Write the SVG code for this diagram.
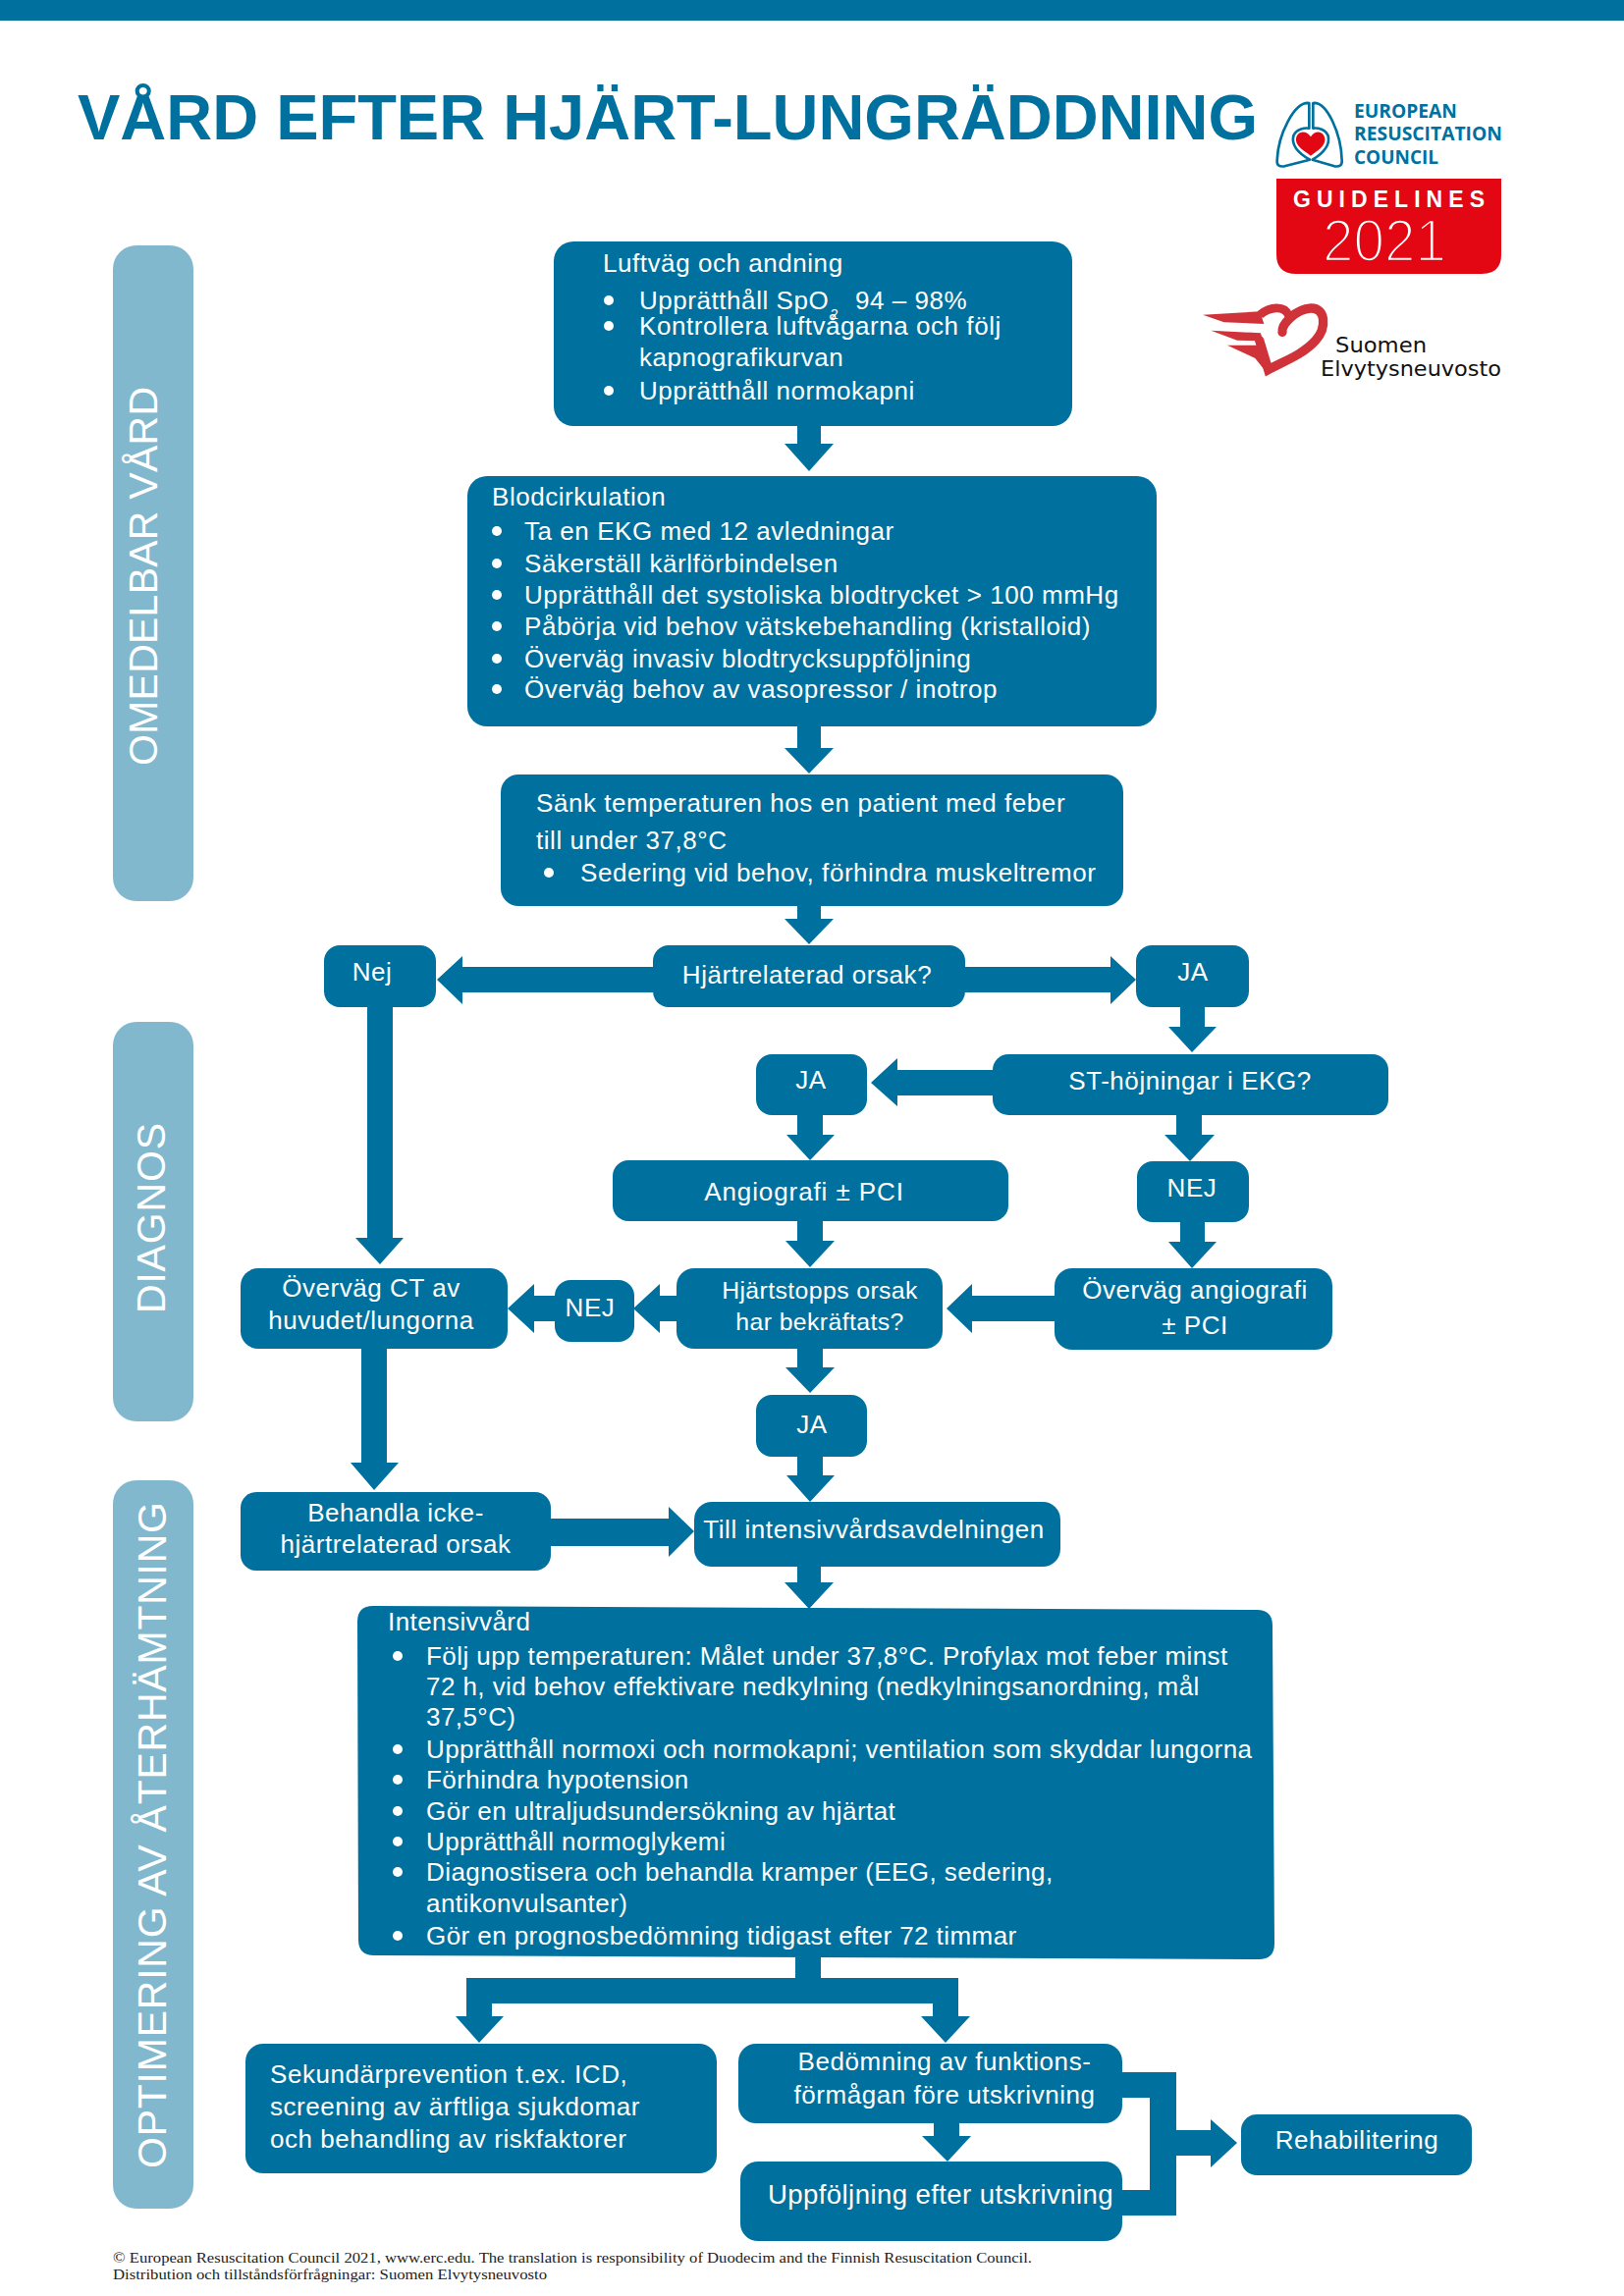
<svg xmlns="http://www.w3.org/2000/svg" width="1654" height="2339" viewBox="0 0 1654 2339">
<style>
text{font-family:"Liberation Sans",Arial,sans-serif}
.b{fill:#00719e}
.s{fill:#82b8ce}
.t{fill:#fff;font-size:26px;letter-spacing:.55px}
.c{text-anchor:middle}
.d{fill:#fff}
.m{font-size:24.8px;letter-spacing:.4px}
.i{font-size:26px;letter-spacing:.43px}
.v{fill:#fff;font-size:41px}
.f{font-family:"Liberation Serif",serif;font-size:15.5px;fill:#222}
.e{font-family:"Open Sans",sans-serif;font-weight:700;font-size:19px;fill:#00719e}
.g{font-family:"DejaVu Sans",sans-serif;font-size:22px;fill:#111}
</style>
<rect id="topbar" class="b" x="0" y="0" width="1654" height="21"/>
<text id="title" x="79" y="142" font-size="64" font-weight="700" fill="#00719e" textLength="1202" lengthAdjust="spacingAndGlyphs">VÅRD EFTER HJÄRT-LUNGRÄDDNING</text>

<g id="erc-logo">
<g transform="translate(1180 80) scale(.33333)">
<path d="M460 75C415 70 365 170 362 250Q360 272 385 268L462 248C430 230 405 205 412 175C420 155 445 150 460 152Z" fill="none" stroke="#00719e" stroke-width="8" stroke-linejoin="round"/>
<path d="M472 75C515 70 558 170 560 250Q562 272 537 268L470 248C500 230 525 205 518 175C510 155 487 150 472 152Z" fill="none" stroke="#00719e" stroke-width="8" stroke-linejoin="round"/>
<path d="M465 178C445 152 418 165 420 190C422 208 445 222 465 236C485 222 506 208 508 190C510 165 483 152 465 178Z" fill="#e30613"/>
</g>
<text class="e" x="1379" y="120" textLength="105" lengthAdjust="spacingAndGlyphs">EUROPEAN</text>
<text class="e" x="1379" y="143" textLength="151" lengthAdjust="spacingAndGlyphs">RESUSCITATION</text>
<text class="e" x="1379" y="167" textLength="86" lengthAdjust="spacingAndGlyphs">COUNCIL</text>
<path d="M1300 182H1529V259Q1529 279 1509 279H1320Q1300 279 1300 259Z" fill="#e30613"/>
<text x="1317" y="211" font-family="Open Sans" font-weight="700" font-size="23" fill="#fff" textLength="195">GUIDELINES</text>
<text x="1347" y="266" font-family="Open Sans" font-size="62" fill="#fff" stroke="#e30613" stroke-width="2.6" textLength="126" lengthAdjust="spacingAndGlyphs">2021</text>
</g>

<g id="suomen-logo">
<g transform="translate(1180 80) scale(.33333)" fill="#cf3339">
<path d="M378 775C375 750 420 705 465 702C510 700 515 760 480 800C440 845 380 865 335 890L308 800" fill="none" stroke="#cf3339" stroke-width="28" stroke-linecap="round"/>
<path d="M310 722C340 697 385 692 398 725" fill="none" stroke="#cf3339" stroke-width="26"/>
<path d="M135 722L310 712L322 750L200 745Z"/>
<path d="M160 770L312 778L318 802L240 800Z"/>
<path d="M210 815L318 815L335 905L295 855Z"/>
</g>
<text class="g" x="1360" y="359" textLength="93" lengthAdjust="spacingAndGlyphs">Suomen</text>
<text class="g" x="1345" y="383" textLength="184" lengthAdjust="spacingAndGlyphs">Elvytysneuvosto</text>
</g>

<g id="phase-omedelbar"><rect class="s" x="115" y="250" width="82" height="668" rx="24"/><text class="v" transform="translate(160 780) rotate(-90)" textLength="386">OMEDELBAR VÅRD</text></g>
<g id="phase-diagnos"><rect class="s" x="115" y="1041" width="82" height="407" rx="24"/><text class="v" transform="translate(168 1338) rotate(-90)" textLength="194">DIAGNOS</text></g>
<g id="phase-optimering"><rect class="s" x="115" y="1508" width="82" height="742" rx="24"/><text class="v" transform="translate(169 2209) rotate(-90)" textLength="679">OPTIMERING AV ÅTERHÄMTNING</text></g>

<g id="connectors" class="b">
<polygon points="812,434 836,434 836,452 849,452 824,480 799,452 812,452"/>
<polygon points="812,740 836,740 836,762 849,762 824,788 799,762 812,762"/>
<polygon points="812,923 836,923 836,936 849,936 824,962 799,936 812,936"/>
<polygon points="665,985 471,985 471,974 445,998 471,1023 471,1011 665,1011"/>
<polygon points="983,985 1131,985 1131,974 1157,998 1131,1023 1131,1011 983,1011"/>
<polygon points="1202,1026 1227,1026 1227,1046 1239,1046 1214,1072 1190,1046 1202,1046"/>
<polygon points="1011,1090 914,1090 914,1078 887,1103 914,1127 914,1116 1011,1116"/>
<polygon points="812,1136 838,1136 838,1156 850,1156 825,1182 801,1156 812,1156"/>
<polygon points="1198,1136 1224,1136 1224,1156 1237,1156 1212,1183 1186,1156 1198,1156"/>
<polygon points="812,1244 838,1244 838,1264 850,1264 825,1291 800,1264 812,1264"/>
<polygon points="1202,1245 1227,1245 1227,1265 1239,1265 1214,1292 1190,1265 1202,1265"/>
<polygon points="1074,1320 990,1320 990,1308 964,1333 990,1358 990,1346 1074,1346"/>
<polygon points="689,1320 672,1320 672,1308 645,1333 672,1358 672,1346 689,1346"/>
<polygon points="566,1320 544,1320 544,1308 517,1333 544,1358 544,1346 566,1346"/>
<polygon points="374,1026 400,1026 400,1261 411,1261 387,1288 362,1261 374,1261"/>
<polygon points="368,1374 394,1374 394,1490 406,1490 381,1518 357,1490 368,1490"/>
<polygon points="812,1374 838,1374 838,1393 850,1393 825,1419 800,1393 812,1393"/>
<polygon points="812,1484 838,1484 838,1503 850,1503 825,1530 801,1503 812,1503"/>
<polygon points="561,1547 681,1547 681,1535 707,1560 681,1586 681,1575 561,1575"/>
<polygon points="812,1596 836,1596 836,1612 849,1612 824,1639 799,1612 812,1612"/>
<polygon points="810,1994 836,1994 836,2015 976,2015 976,2054 988,2054 963,2081 938,2054 950,2054 950,2041 501,2041 501,2054 513,2054 488,2081 464,2054 475,2054 475,2015 810,2015"/>
<polygon points="951,2163 977,2163 977,2176 989,2176 965,2202 939,2176 951,2176"/>
<polygon points="1143,2111 1198,2111 1198,2170 1233,2170 1233,2159 1260,2183 1233,2208 1233,2196 1198,2196 1198,2257 1143,2257 1143,2231 1171,2231 1171,2137 1143,2137"/>
</g>

<g id="n-luftvag"><rect class="b" x="564" y="246" width="528" height="188" rx="20"/>
<text class="t" x="614" y="277">Luftväg och andning</text>
<circle class="d" cx="620" cy="306" r="5"/><text class="t" x="651" y="315">Upprätthåll SpO</text><text class="t" x="846" y="325" style="font-size:14px;letter-spacing:0">2</text><text class="t" x="871" y="315">94 – 98%</text>
<circle class="d" cx="620" cy="332" r="5"/><text class="t" x="651" y="341">Kontrollera luftvågarna och följ</text>
<text class="t" x="651" y="373">kapnografikurvan</text>
<circle class="d" cx="620" cy="398" r="5"/><text class="t" x="651" y="407">Upprätthåll normokapni</text>
</g>
<g id="n-blod"><rect class="b" x="476" y="485" width="702" height="255" rx="20"/>
<text class="t" x="501" y="515">Blodcirkulation</text>
<circle class="d" cx="506" cy="541" r="5"/><text class="t" x="534" y="550">Ta en EKG med 12 avledningar</text>
<circle class="d" cx="506" cy="574" r="5"/><text class="t" x="534" y="583">Säkerställ kärlförbindelsen</text>
<circle class="d" cx="506" cy="606" r="5"/><text class="t" x="534" y="615">Upprätthåll det systoliska blodtrycket &gt; 100 mmHg</text>
<circle class="d" cx="506" cy="638" r="5"/><text class="t" x="534" y="647">Påbörja vid behov vätskebehandling (kristalloid)</text>
<circle class="d" cx="506" cy="671" r="5"/><text class="t" x="534" y="680">Överväg invasiv blodtrycksuppföljning</text>
<circle class="d" cx="506" cy="702" r="5"/><text class="t" x="534" y="711">Överväg behov av vasopressor / inotrop</text>
</g>
<g id="n-sank"><rect class="b" x="510" y="789" width="634" height="134" rx="18"/>
<text class="t" x="546" y="827">Sänk temperaturen hos en patient med feber</text>
<text class="t" x="546" y="865">till under 37,8°C</text>
<circle class="d" cx="559" cy="889" r="5"/><text class="t" x="591" y="898">Sedering vid behov, förhindra muskeltremor</text>
</g>
<g id="n-hjartrel"><rect class="b" x="665" y="963" width="318" height="63" rx="16"/><text class="t c" x="822" y="1002">Hjärtrelaterad orsak?</text></g>
<g id="n-nej1"><rect class="b" x="330" y="963" width="114" height="63" rx="16"/><text class="t c" x="379" y="999">Nej</text></g>
<g id="n-ja1"><rect class="b" x="1157" y="963" width="115" height="63" rx="16"/><text class="t c" x="1215" y="999">JA</text></g>
<g id="n-st"><rect class="b" x="1011" y="1074" width="403" height="62" rx="16"/><text class="t c" x="1212" y="1110">ST-höjningar i EKG?</text></g>
<g id="n-ja2"><rect class="b" x="770" y="1074" width="113" height="62" rx="16"/><text class="t c" x="826" y="1109">JA</text></g>
<g id="n-angio"><rect class="b" x="624" y="1182" width="403" height="62" rx="16"/><text class="t c" x="819" y="1223" style="letter-spacing:.9px">Angiografi ± PCI</text></g>
<g id="n-nej2"><rect class="b" x="1158" y="1183" width="114" height="62" rx="16"/><text class="t c" x="1214" y="1219">NEJ</text></g>
<g id="n-hjartstopp"><rect class="b" x="689" y="1292" width="271" height="82" rx="18"/><text class="t c m" x="835" y="1323">Hjärtstopps orsak</text><text class="t c m" x="835" y="1355">har bekräftats?</text></g>
<g id="n-ovang"><rect class="b" x="1074" y="1292" width="283" height="83" rx="18"/><text class="t c" x="1217" y="1323">Överväg angiografi</text><text class="t c" x="1217" y="1359">± PCI</text></g>
<g id="n-nej3"><rect class="b" x="565" y="1304" width="81" height="63" rx="16"/><text class="t c" x="601" y="1341">NEJ</text></g>
<g id="n-ct"><rect class="b" x="245" y="1292" width="272" height="82" rx="18"/><text class="t c" x="378" y="1321">Överväg CT av</text><text class="t c" x="378" y="1354">huvudet/lungorna</text></g>
<g id="n-ja3"><rect class="b" x="770" y="1421" width="113" height="63" rx="16"/><text class="t c" x="827" y="1460">JA</text></g>
<g id="n-behandla"><rect class="b" x="245" y="1520" width="316" height="80" rx="16"/><text class="t c" x="403" y="1550">Behandla icke-</text><text class="t c" x="403" y="1582">hjärtrelaterad orsak</text></g>
<g id="n-till"><rect class="b" x="707" y="1530" width="373" height="66" rx="18"/><text class="t c" x="890" y="1567">Till intensivvårdsavdelningen</text></g>
<g id="n-intensiv"><path class="b" d="M380 1636L1280 1640Q1296 1640 1296 1656L1298 1980Q1298 1996 1282 1996L381 1992Q365 1992 365 1976L364 1652Q364 1636 380 1636Z"/>
<text class="t i" x="395" y="1661">Intensivvård</text>
<circle class="d" cx="405" cy="1687" r="5"/><text class="t i" x="434" y="1696">Följ upp temperaturen: Målet under 37,8°C. Profylax mot feber minst</text>
<text class="t i" x="434" y="1727">72 h, vid behov effektivare nedkylning (nedkylningsanordning, mål</text>
<text class="t i" x="434" y="1758">37,5°C)</text>
<circle class="d" cx="405" cy="1782" r="5"/><text class="t i" x="434" y="1791">Upprätthåll normoxi och normokapni; ventilation som skyddar lungorna</text>
<circle class="d" cx="405" cy="1813" r="5"/><text class="t i" x="434" y="1822">Förhindra hypotension</text>
<circle class="d" cx="405" cy="1845" r="5"/><text class="t i" x="434" y="1854">Gör en ultraljudsundersökning av hjärtat</text>
<circle class="d" cx="405" cy="1876" r="5"/><text class="t i" x="434" y="1885">Upprätthåll normoglykemi</text>
<circle class="d" cx="405" cy="1907" r="5"/><text class="t i" x="434" y="1916">Diagnostisera och behandla kramper (EEG, sedering,</text>
<text class="t i" x="434" y="1948">antikonvulsanter)</text>
<circle class="d" cx="405" cy="1972" r="5"/><text class="t i" x="434" y="1981">Gör en prognosbedömning tidigast efter 72 timmar</text>
</g>
<g id="n-sekundar"><rect class="b" x="250" y="2082" width="480" height="132" rx="18"/>
<text class="t" x="275" y="2122">Sekundärprevention t.ex. ICD,</text>
<text class="t" x="275" y="2155">screening av ärftliga sjukdomar</text>
<text class="t" x="275" y="2188">och behandling av riskfaktorer</text></g>
<g id="n-bedomning"><rect class="b" x="752" y="2082" width="391" height="81" rx="18"/><text class="t c" x="962" y="2109">Bedömning av funktions-</text><text class="t c" x="962" y="2143">förmågan före utskrivning</text></g>
<g id="n-uppfoljning"><rect class="b" x="754" y="2202" width="389" height="81" rx="18"/><text class="t c" x="958" y="2245" style="font-size:27.6px;letter-spacing:.4px">Uppföljning efter utskrivning</text></g>
<g id="n-rehab"><rect class="b" x="1264" y="2154" width="235" height="62" rx="16"/><text class="t c" x="1382" y="2189">Rehabilitering</text></g>

<g id="footer">
<text class="f" x="115" y="2305" textLength="936" lengthAdjust="spacingAndGlyphs">© European Resuscitation Council 2021, www.erc.edu. The translation is responsibility of Duodecim and the Finnish Resuscitation Council.</text>
<text class="f" x="115" y="2322" textLength="442" lengthAdjust="spacingAndGlyphs">Distribution och tillståndsförfrågningar: Suomen Elvytysneuvosto</text>
</g>
</svg>
